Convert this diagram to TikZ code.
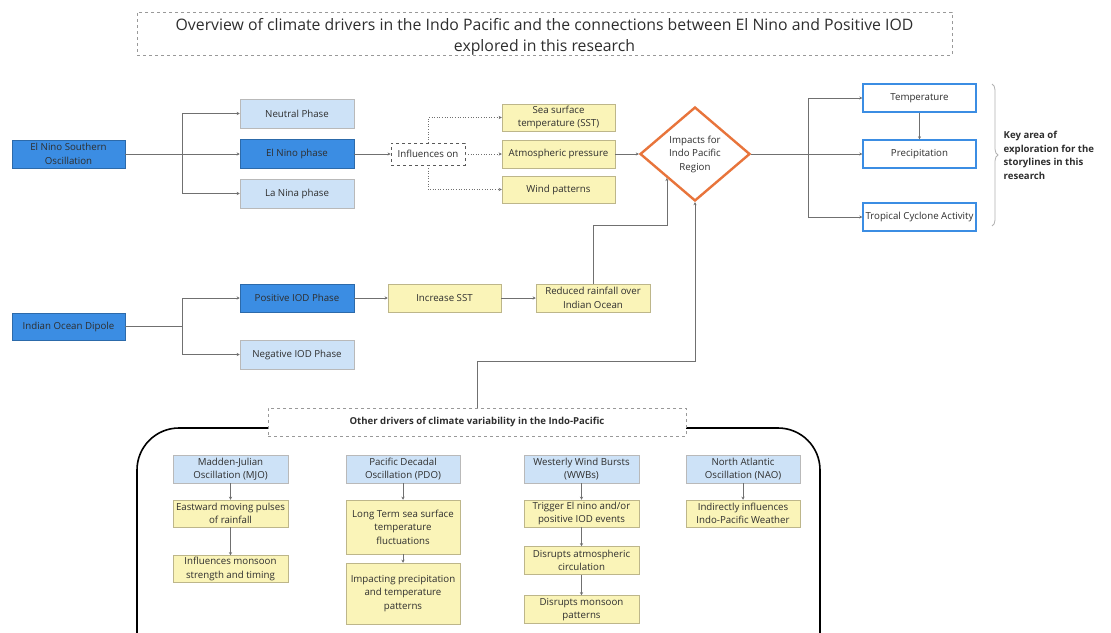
\documentclass[tikz,border=0pt]{standalone}
\usepackage{fontspec}
\setmainfont{Open Sans}
\usetikzlibrary{shapes.geometric,arrows.meta,decorations.pathreplacing}
\definecolor{dblue}{HTML}{3B8DE3}
\definecolor{lblue}{HTML}{CDE2F7}
\definecolor{ylw}{HTML}{FAF4B8}
\definecolor{ylwb}{HTML}{BDB68A}
\definecolor{txt}{HTML}{2E2E2E}
\definecolor{lne}{HTML}{707070}
\definecolor{orng}{HTML}{E8743B}
\begin{document}
\begin{tikzpicture}[x=1pt,y=-1pt,
  base/.style={font=\fontsize{9.7}{13.5}\selectfont, text=txt, align=center, inner sep=0.5pt},
  dark/.style={base, fill=dblue, draw=dblue!75!black, line width=0.5pt},
  light/.style={base, fill=lblue, draw=gray!55, line width=0.5pt},
  yel/.style={base, fill=ylw, draw=ylwb, line width=0.5pt},
  outl/.style={base, fill=white, draw=dblue, line width=1.4pt},
  sz/.style n args={2}{minimum width=#1pt, minimum height=#2pt},
  arr/.style={draw=lne, line width=0.6pt, -{Stealth[length=3pt,width=3pt]}},
  ln/.style={draw=lne, line width=0.6pt},
  dotarr/.style={draw=lne, line width=0.6pt, dotted, -{Stealth[length=3pt,width=3pt]}},
]
\clip (0,0) rectangle (1111,632);
\fill[white] (0,0) rectangle (1111,632);

% title frame and its text
\node[draw=gray!80, dashed, line width=0.6pt, sz={815}{43}] (title) at (544.5,33.5) {};
\node[base, font=\fontsize{15.8}{21}\selectfont] (titletext) at (544.5,36.5)
  {Overview of climate drivers in the Indo Pacific and the connections between El Nino and Positive IOD\\explored in this research};

% ENSO branch
\node[dark, sz={113}{28}] (enso) at (68.5,154) {El Nino Southern\\Oscillation};
\node[light, sz={114}{29}] (neutral) at (297,113.5) {Neutral Phase};
\node[dark, sz={114}{29}] (elnino) at (297,154) {El Nino phase};
\node[light, sz={114}{29}] (lanina) at (297,193.5) {La Nina phase};
\coordinate (eb) at (182,154);
\draw[ln] (enso.east) -- (eb);
\draw[arr] (eb) |- (neutral.west);
\draw[arr] (eb) -- (elnino.west);
\draw[arr] (eb) |- (lanina.west);

% influences
\node[base, draw=gray!70!black, dashed, line width=0.9pt, sz={74}{22}] (infl) at (428,154) {Influences on};
\draw[arr] (elnino.east) -- (infl.west);
\node[yel, sz={113}{27}] (sst) at (558.5,117.5) {Sea surface\\temperature (SST)};
\node[yel, sz={113}{28}] (atm) at (558.5,154) {Atmospheric pressure};
\node[yel, sz={113}{27}] (wind) at (558.5,189.5) {Wind patterns};
\draw[dotarr] (infl.north) |- (sst.west);
\draw[dotarr] (infl.east) -- (atm.west);
\draw[dotarr] (infl.south) |- (wind.west);

% impacts diamond
\node[base, diamond, draw=orng, line width=2.4pt, fill=white, inner sep=0pt, aspect=1.17, sz={110}{94}] (diam) at (695,154) {Impacts for\\Indo Pacific\\Region};
\draw[arr] (atm.east) -- (diam.west);

% outcomes
\node[outl, sz={113}{28}] (temp) at (919.5,98) {Temperature};
\node[outl, sz={113}{28}] (prec) at (919.5,154) {Precipitation};
\node[outl, sz={113}{28}] (trop) at (919.5,217) {Tropical Cyclone Activity};
\coordinate (rb) at (808,154);
\draw[ln] (diam.east) -- (rb);
\draw[arr] (rb) |- (temp.west);
\draw[arr] (rb) -- (prec.west);
\draw[arr] (rb) |- (trop.west);
\draw[arr] (temp.south) -- (prec.north);
\draw[draw=gray!60, line width=0.8pt, decorate, decoration={brace, amplitude=6pt}] (992,84) -- (992,226);
\node[base, font=\bfseries\fontsize{9.6}{13.5}\selectfont, align=left, anchor=west] (key) at (1003,155.5)
  {Key area of\\exploration for the\\storylines in this\\research};

% IOD branch
\node[dark, sz={113}{27}] (iod) at (68.5,326.5) {Indian Ocean Dipole};
\node[dark, sz={114}{28}] (pos) at (297,298) {Positive IOD Phase};
\node[light, sz={114}{29}] (neg) at (297,354.5) {Negative IOD Phase};
\coordinate (ib) at (182,326.5);
\draw[ln] (iod.east) -- (ib);
\draw[arr] (ib) |- (pos.west);
\draw[arr] (ib) |- (neg.west);
\node[yel, sz={113}{28}] (incr) at (444.5,298) {Increase SST};
\node[yel, sz={114}{28}] (rain) at (593,298) {Reduced rainfall over\\Indian Ocean};
\draw[arr] (pos.east) -- (incr.west);
\draw[arr] (incr.east) -- (rain.west);
\draw[arr] (rain.north) -- ++(0,-58) -| (diam.south west);

% other drivers panel
\draw[black, line width=1.6pt, rounded corners=42pt] (137,428) rectangle (820,700);
\node[base, font=\bfseries\fontsize{9.6}{12}\selectfont, fill=white, draw=gray!80, dashed, line width=0.6pt, sz={418}{28}] (other) at (477,422)
  {Other drivers of climate variability in the Indo-Pacific};
\draw[arr] (other.north) -- ++(0,-46) -| (diam.south);

% MJO column
\node[light, sz={115}{28}] (mjo) at (230.5,469) {Madden-Julian\\Oscillation (MJO)};
\node[yel, sz={115}{27}] (mjoa) at (230.5,513.5) {Eastward moving pulses\\of rainfall};
\node[yel, sz={115}{27}] (mjob) at (230.5,569) {Influences monsoon\\strength and timing};
\draw[arr] (mjo.south) -- (mjoa.north);
\draw[arr] (mjoa.south) -- (mjob.north);

% PDO column
\node[light, sz={114}{28}] (pdo) at (403,469) {Pacific Decadal\\Oscillation (PDO)};
\node[yel, sz={114}{54}] (pdoa) at (403,527) {Long Term sea surface\\temperature\\fluctuations};
\node[yel, sz={114}{61}] (pdob) at (403,593.5) {Impacting precipitation\\and temperature\\patterns};
\draw[arr] (pdo.south) -- (pdoa.north);
\draw[arr] (pdoa.south) -- (pdob.north);

% WWB column
\node[light, sz={115}{28}] (wwb) at (581.5,469) {Westerly Wind Bursts\\(WWBs)};
\node[yel, sz={115}{27}] (wwba) at (581.5,513.5) {Trigger El nino and/or\\positive IOD events};
\node[yel, sz={115}{28}] (wwbb) at (581.5,560.5) {Disrupts atmospheric\\circulation};
\node[yel, sz={115}{28}] (wwbc) at (581.5,609.5) {Disrupts monsoon\\patterns};
\draw[arr] (wwb.south) -- (wwba.north);
\draw[arr] (wwba.south) -- (wwbb.north);
\draw[arr] (wwbb.south) -- (wwbc.north);

% NAO column
\node[light, sz={114}{28}] (nao) at (743,469) {North Atlantic\\Oscillation (NAO)};
\node[yel, sz={114}{27}] (naoa) at (743,513.5) {Indirectly influences\\Indo-Pacific Weather};
\draw[arr] (nao.south) -- (naoa.north);
\end{tikzpicture}
\end{document}
